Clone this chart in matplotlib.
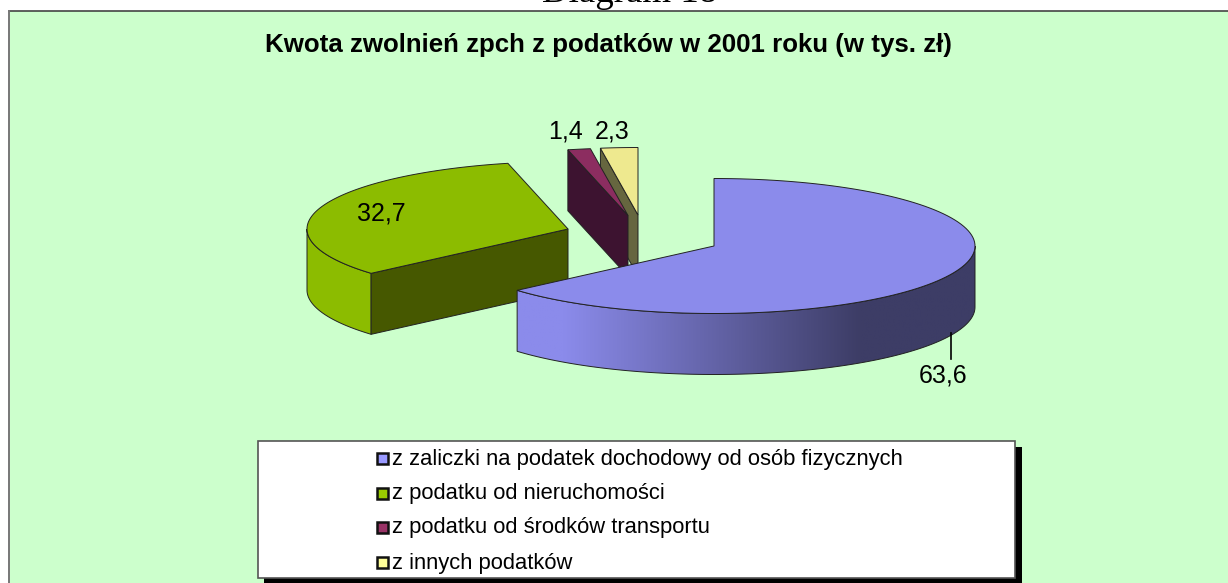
import numpy as np
import matplotlib
matplotlib.use('Agg')
import matplotlib.pyplot as plt
from matplotlib.colors import LinearSegmentedColormap
from matplotlib.patches import Polygon, Rectangle

plt.rcParams['font.family'] = ['Liberation Sans', 'DejaVu Sans']

# data
heading = 'Diagram 18'
title = 'Kwota zwolnień zpch z podatków w 2001 roku (w tys. zł)'
categories = [
    'z zaliczki na podatek dochodowy od osób fizycznych',
    'z podatku od nieruchomości',
    'z podatku od środków transportu',
    'z innych podatków',
]
values = [63.6, 32.7, 1.4, 2.3]

# look
top_colors = ['#8B8BEB', '#8CBC00', '#8C2D60', '#EEE98F']
face_colors = ['#3D3D66', '#465800', '#3D1330', '#66663F']
key_colors = ['#9999FF', '#99CC00', '#993366', '#FFFF99']
centers = [(714, 246), (568, 229), (628, 215.5), (638, 215)]
label_pos = [(943, 383), (381, 220), (565, 138), (612, 138)]
RX, RY, DEPTH = 261, 67.5, 61
EDGE = 0.7


def ell(center, t):
    # point on the tilted pie, t in degrees clockwise from 12 o'clock
    t = np.radians(t)
    return np.column_stack([center[0] + RX * np.sin(t), center[1] - RY * np.cos(t)])


def arc(center, a, b):
    return ell(center, np.linspace(a, b, 120))


def drop(pts):
    return pts + np.array([0, DEPTH])


def add_poly(ax, pts, color, z):
    ax.add_patch(Polygon(pts, closed=True, facecolor=color, edgecolor='#222222', linewidth=EDGE, zorder=z))


fig = plt.figure(figsize=(12.28, 5.83), dpi=100)
ax = fig.add_axes([0, 0, 1, 1])
ax.axis('off')

# background panel
ax.add_patch(Rectangle((9, 11), 1260, 620, facecolor='#CCFFCC', edgecolor='none', zorder=1))
ax.plot([9, 1228], [11, 11], color='#444444', linewidth=1.2, zorder=2)
ax.plot([9, 9], [11, 583], color='#777777', linewidth=1.4, zorder=2)

ax.text(630, 2, heading, family='Liberation Serif', fontsize=26.6, ha='center', va='baseline', zorder=2)
ax.text(608, 52, title, fontsize=18.65, fontweight='bold', ha='center', va='baseline', zorder=2)

# angles of each slice from the values
edges = np.concatenate([[0], np.cumsum(values)]) / np.sum(values) * 360
starts, ends = edges[:-1], edges[1:]

# green slice
c = centers[1]
a, b = starts[1], ends[1]
outer = arc(c, a, 270)
add_poly(ax, np.vstack([outer, drop(outer)[::-1]]), top_colors[1], 3)
apex = np.array([c])
p0 = ell(c, a)
add_poly(ax, np.vstack([p0, apex, drop(apex), drop(p0)]), face_colors[1], 3)
add_poly(ax, np.vstack([apex, arc(c, a, b)]), top_colors[1], 4)

# yellow slice, then purple in front of it
c = centers[3]
a, b = starts[3], ends[3]
apex = np.array([c])
p0 = ell(c, a)
add_poly(ax, np.vstack([p0, apex, drop(apex), drop(p0)]), face_colors[3], 5)
add_poly(ax, np.vstack([apex, arc(c, a, b)]), top_colors[3], 5)

c = centers[2]
a, b = starts[2], ends[2]
apex = np.array([c])
p0 = ell(c, a)
add_poly(ax, np.vstack([p0, apex, drop(apex), drop(p0)]), face_colors[2], 6)
add_poly(ax, np.vstack([apex, arc(c, a, b)]), top_colors[2], 6)

# blue slice with the gradient on its rim
c = centers[0]
a, b = starts[0], ends[0]
rim = arc(c, 90, b)
rim_pts = np.vstack([rim, drop(rim)[::-1]])
x0, x1 = rim_pts[:, 0].min(), rim_pts[:, 0].max()
cmap = LinearSegmentedColormap.from_list('rim', [(0, top_colors[0]), (0.1, top_colors[0]), (0.75, face_colors[0]), (1, face_colors[0])])
im = ax.imshow(np.linspace(0, 1, 256)[None, :], cmap=cmap, extent=(x0, x1, 400, 200), aspect='auto', zorder=7)
rim_patch = Polygon(rim_pts, closed=True, facecolor='none', edgecolor='#222222', linewidth=EDGE, zorder=8)
ax.add_patch(rim_patch)
im.set_clip_path(rim_patch)
add_poly(ax, np.vstack([[c], arc(c, a, b)]), top_colors[0], 9)

# data labels
ax.plot([951, 951], [333, 359], color='black', linewidth=1.2, zorder=10)
for v, (lx, ly) in zip(values, label_pos):
    ax.text(lx, ly, f'{v:.1f}'.replace('.', ','), fontsize=18, ha='center', va='baseline', zorder=11)

# legend box with shadow
ax.add_patch(Rectangle((264, 447), 758, 140, facecolor='black', edgecolor='none', zorder=12))
ax.add_patch(Rectangle((258, 441), 757, 137, facecolor='white', edgecolor='#555555', linewidth=1.2, zorder=13))
rows = [458, 493, 527, 562]
for name, col, y in zip(categories, key_colors, rows):
    ax.add_patch(Rectangle((377, y - 5.5), 11, 11, facecolor=col, edgecolor='#111111', linewidth=1.8, zorder=14))
    ax.text(392, y + 6.5, name, fontsize=15.85, ha='left', va='baseline', zorder=14)

ax.set_xlim(0, 1228)
ax.set_ylim(583, 0)
fig.savefig('out.png', dpi=100)
